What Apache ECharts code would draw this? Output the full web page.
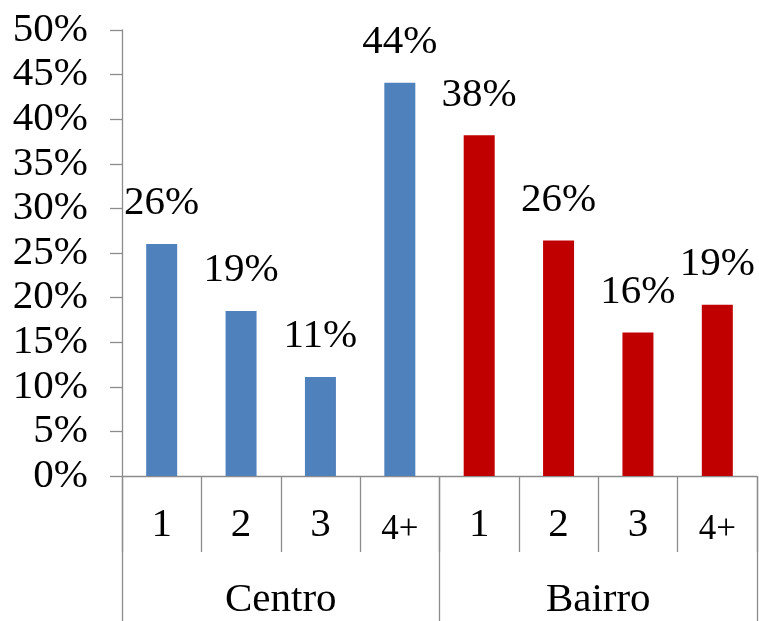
<!DOCTYPE html>
<html>
<head>
<meta charset="utf-8">
<script src="https://cdn.jsdelivr.net/npm/echarts@6/dist/echarts.min.js"></script>
<style>
  html, body { margin: 0; padding: 0; background: #fff; }
  #main { width: 759px; height: 621px; }
</style>
</head>
<body>
<div id="main"></div>
<script>
// 数据
let categories = ['1', '2', '3', '4+', '1', '2', '3', '4+'];
let groups = ['Centro', 'Bairro'];
let values = [26.0, 18.5, 11.1, 44.1, 38.2, 26.4, 16.1, 19.2];
let groupColors = ['#4F81BD', '#C00000'];
let yTicks = { min: 0, max: 50, interval: 5 };

let font = 'Liberation Serif';
let axisGray = '#8c8c8c';

function catLabel(v) {
    return v === '4+' ? '{s|4+}' : v;
}

let myChart = echarts.init(document.getElementById('main'));
let option = {
    animation: false,
    grid: { left: 122, right: 2, top: 30, bottom: 145 },
    xAxis: [{
        type: 'category',
        data: categories,
        position: 'bottom',
        axisLine: { show: true, lineStyle: { color: axisGray, width: 1.3 } },
        axisTick: { show: true, interval: 0, length: 76, lineStyle: { color: axisGray, width: 1.3 } },
        axisLabel: {
            interval: 0, margin: 29, color: '#000', fontFamily: font, fontSize: 41,
            formatter: catLabel,
            rich: { s: { fontSize: 35, lineHeight: 50, fontFamily: font, color: '#000' } }
        }
    }, {
        type: 'category',
        data: groups,
        position: 'bottom',
        offset: 0,
        axisLine: { show: false },
        axisTick: { show: true, interval: 0, length: 146, lineStyle: { color: axisGray, width: 1.3 } },
        axisLabel: { interval: 0, margin: 104, color: '#000', fontFamily: font, fontSize: 41 }
    }],
    yAxis: {
        type: 'value',
        min: yTicks.min,
        max: yTicks.max,
        interval: yTicks.interval,
        splitLine: { show: false },
        axisLine: { show: true, lineStyle: { color: axisGray, width: 1.3 } },
        axisTick: { show: true, length: 12, lineStyle: { color: axisGray, width: 1.3 } },
        axisLabel: { formatter: '{value}%', margin: 34, color: '#000', fontFamily: font, fontSize: 41 }
    },
    series: [{
        type: 'bar',
        xAxisIndex: 0,
        barWidth: 31,
        data: values,
        itemStyle: {
            color: function (p) { return groupColors[p.dataIndex < 4 ? 0 : 1]; }
        },
        label: {
            show: true,
            position: 'top',
            distance: 20,
            color: '#000',
            fontFamily: font,
            fontSize: 41,
            formatter: function (p) { return Math.round(p.value) + '%'; }
        }
    }]
};
myChart.setOption(option, true);
</script>
</body>
</html>
